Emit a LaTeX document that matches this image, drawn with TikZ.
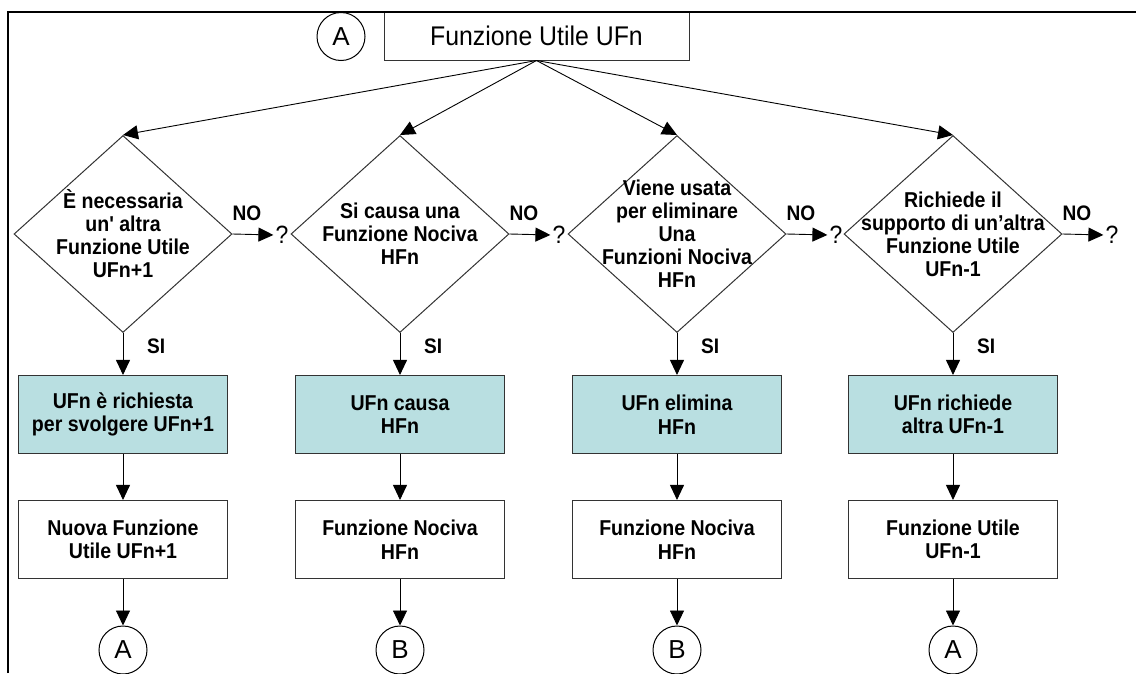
\documentclass[tikz,border=0pt]{standalone}
\usepackage{fontspec}
\setmainfont{Liberation Sans}
% slightly condensed faces for the diagram labels
\newfontfamily\cndb[FakeStretch=0.91]{Liberation Sans Bold}
\newfontfamily\cnd[FakeStretch=0.92]{Liberation Sans}
\usetikzlibrary{shapes.geometric,arrows.meta}
\definecolor{cyanfill}{RGB}{185,223,225}
\tikzset{
  frameline/.style={line width=2pt, line join=miter},
  box/.style={draw=black!80, line width=1.1pt, minimum width=209pt, minimum height=78pt,
    inner sep=0pt, align=center, font=\fontsize{21.5}{23.5}\cndb},
  actbox/.style={box, fill=cyanfill},
  plainbox/.style={box, fill=white},
  topbox/.style={draw=black!80, line width=1pt, fill=white, minimum width=305pt,
    minimum height=48pt, inner sep=0pt, font=\fontsize{27}{27}\cnd},
  dia/.style={draw=black!80, line width=1pt, shape=diamond, minimum width=218pt,
    minimum height=197pt, inner sep=0pt},
  dtext/.style={align=center, font=\fontsize{21.5}{23}\cndb, inner sep=0pt},
  conn/.style={draw, circle, line width=1pt, minimum size=48pt, inner sep=0pt,
    font=\fontsize{26}{26}\selectfont},
  arr/.style={line width=0.9pt, -{Triangle[length=15pt,width=14pt]}},
  lbl/.style={font=\fontsize{21}{21}\cndb, inner sep=0pt},
  qm/.style={font=\fontsize{25}{25}\cnd, inner sep=0pt},
}
\begin{document}
\begin{tikzpicture}[x=1pt,y=-1pt]
\useasboundingbox (0,0) rectangle (1136,673);

% header: start function and its connector
\node[topbox] (top) at (536.5,36) {Funzione Utile UFn};
\node[conn] (a0) at (341,36.5) {A};

% page frame (top and left edge)
\draw[frameline] (8,673) -- (8,12) -- (1136,12);

% decision diamonds
\node[dia] (d1) at (123,234) {};
\node[dia] (d2) at (400,234) {};
\node[dia] (d3) at (677,234) {};
\node[dia] (d4) at (953,234) {};
\node[dtext] (t1) at (d1) {È necessaria\\ un' altra\\ Funzione Utile\\ UFn+1};
\node[dtext] (t2) at (d2) {Si causa una\\ Funzione Nociva\\ HFn};
\node[dtext] (t3) at (d3) {Viene usata\\ per eliminare\\ Una\\ Funzioni Nociva\\ HFn};
\node[dtext] (t4) at (d4) {Richiede il\\ supporto di un’altra\\ Funzione Utile\\ UFn-1};

% outcome boxes
\node[actbox] (b1) at (123,414.5) {UFn è richiesta\\ per svolgere UFn+1};
\node[actbox] (b2) at (400,414.5) {UFn causa\\ HFn};
\node[actbox] (b3) at (677,414.5) {UFn elimina\\ HFn};
\node[actbox] (b4) at (953,414.5) {UFn richiede\\ altra UFn-1};

\node[plainbox] (w1) at (123,539.5) {Nuova Funzione\\ Utile UFn+1};
\node[plainbox] (w2) at (400,539.5) {Funzione Nociva\\ HFn};
\node[plainbox] (w3) at (677,539.5) {Funzione Nociva\\ HFn};
\node[plainbox] (w4) at (953,539.5) {Funzione Utile\\ UFn-1};

% off-page connectors
\node[conn] (c1) at (123,650) {A};
\node[conn] (c2) at (400,650) {B};
\node[conn] (c3) at (677,650) {B};
\node[conn] (c4) at (953,650) {A};

% "no" exits and "si" labels
\foreach \i/\c in {1/123,2/400,3/677,4/953}{
  \node[qm] (q\i) at (\c+159,235) {?};
  \node[lbl] (n\i) at (\c+124,213) {NO};
  \node[lbl, anchor=west] (s\i) at (\c+24,346) {SI};
}

% connectors
\foreach \i in {1,2,3,4}{
  \draw[arr] (top.south) -- (d\i.north);
  \draw[arr, shorten >=2pt] (d\i.east) -- (q\i.west);
  \draw[arr] (d\i.south) -- (b\i.north);
  \draw[arr] (b\i.south) -- (w\i.north);
  \draw[arr] (w\i.south) -- (c\i.north);
}
\end{tikzpicture}
\end{document}
